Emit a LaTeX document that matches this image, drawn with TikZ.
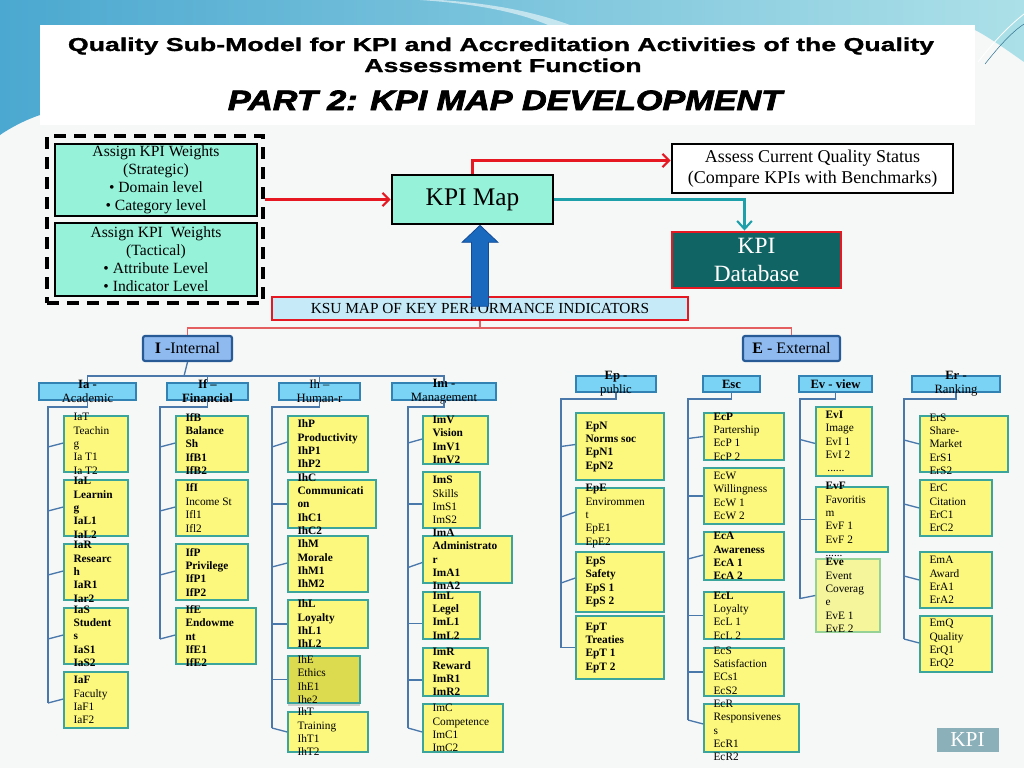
\documentclass[tikz,border=0pt]{standalone}
\usepackage{fontspec}
\setmainfont{Liberation Serif}
\newfontfamily\titlefont[BoldFeatures={FakeBold=1}]{Liberation Sans}
\newfontfamily\partfont[BoldItalicFeatures={FakeBold=2.5}]{Liberation Sans}
\usepackage{graphicx}
\usetikzlibrary{arrows.meta,calc,fit,shadows}

\definecolor{greenfill}{RGB}{150,243,218}
\definecolor{kred}{RGB}{230,25,35}
\definecolor{kredlight}{RGB}{228,95,95}
\definecolor{kteal}{RGB}{30,160,170}
\definecolor{dbfill}{RGB}{16,100,100}
\definecolor{ksufill}{RGB}{198,234,248}
\definecolor{iefill}{RGB}{142,186,240}
\definecolor{iedraw}{RGB}{40,90,150}
\definecolor{subfill}{RGB}{122,210,245}
\definecolor{subdraw}{RGB}{50,130,180}
\definecolor{leaffill}{RGB}{252,248,125}
\definecolor{leafdraw}{RGB}{60,165,155}
\definecolor{treecol}{RGB}{75,120,170}
\definecolor{arrowblue}{RGB}{25,105,190}
\definecolor{arrowedge}{RGB}{20,75,150}
\definecolor{bgcol}{RGB}{246,248,248}
\definecolor{topA}{RGB}{75,168,208}
\definecolor{topB}{RGB}{172,224,232}
\definecolor{logofill}{RGB}{140,176,186}
\definecolor{ihefill}{RGB}{220,218,78}
\definecolor{evefill}{RGB}{245,245,155}
\definecolor{evedraw}{RGB}{150,210,150}

\tikzset{
  leaf/.style={draw=leafdraw, line width=1.1pt, fill=leaffill, inner sep=0pt},
  leafdark/.style={leaf, fill=ihefill, drop shadow={shadow xshift=0pt, shadow yshift=-2pt, opacity=0.35}},
  leaflight/.style={leaf, fill=evefill, draw=evedraw},
  ltext/.style={inner sep=0pt, align=left, anchor=west},
  subbox/.style={draw=subdraw, line width=0.9pt, fill=subfill, inner sep=0pt},
  subtext/.style={inner sep=0pt, align=center, font=\fontsize{9.5}{10.5}\selectfont},
  tree/.style={draw=treecol, line width=1pt},
  greenbox/.style={draw=black, line width=2pt, fill=greenfill, inner sep=0pt},
  gtext/.style={inner sep=0pt, align=center, font=\fontsize{11.7}{13.5}\selectfont},
  dashbox/.style={draw=black, line width=2.6pt, dash pattern=on 9pt off 6pt, inner sep=0pt},
  redarrow/.style={draw=kred, line width=1.6pt, -{Straight Barb[length=5pt,width=10pt,line width=1.6pt]}},
  tealarrow/.style={draw=kteal, line width=1.6pt, -{Straight Barb[length=6pt,width=11pt,line width=1.6pt]}},
  redthin/.style={draw=kredlight, line width=0.9pt},
  iebox/.style={draw=iedraw, line width=1.6pt, fill=iefill, rounded corners=1.5pt, inner sep=0pt},
}

\newcommand\leafnode[8][leaf]{%
  \node[#1, fit={(#3,#4) (#5,#6)}] (#2) {};
  \node[ltext, font=\fontsize{8.5}{10}\selectfont#7] (#2t) at ($(#2.west)+(10,0)$) {#8};
}
\newcommand\ticklink[4]{\draw[tree] ($(#1 |- #2.west)+(0,#3)$) -- ($(#2.west)+(0,#4)$);}

\begin{document}
\begin{tikzpicture}[x=0.75pt,y=-0.75pt]
\useasboundingbox (0,0) rectangle (1024,768);
% background
\fill[bgcol] (0,0) rectangle (1024,768);
\shade[left color=topA, right color=topB] (0,0) -- (1024,0) -- (1024,62) .. controls (1000,45) and (985,35) .. (975,30) -- (975,25) -- (40,25) -- (40,115) .. controls (25,120) and (10,128) .. (0,135) -- cycle;
\fill[white, opacity=0.55] (440,0) .. controls (500,4) and (540,14) .. (570,25) -- (548,25) .. controls (520,13) and (480,4) .. (420,0) -- cycle;
\draw[white, line width=0.6pt] (978,62) .. controls (995,40) and (1010,25) .. (1024,14);
\draw[topA!70!black, line width=0.4pt] (985,64) .. controls (1000,45) and (1012,32) .. (1024,24);
\fill[white] (40,25) rectangle (975,125);

% titles
\node[anchor=base, inner sep=0pt, font=\titlefont\bfseries\fontsize{14}{16}\selectfont] (title1) at (501,51) {\scalebox{1.43}[1]{Quality Sub-Model for KPI and Accreditation Activities of the Quality}};
\node[anchor=base, inner sep=0pt, font=\titlefont\bfseries\fontsize{14}{16}\selectfont] (title2) at (503,72) {\scalebox{1.43}[1]{Assessment Function}};
\node[anchor=base, inner sep=0pt, font=\partfont\bfseries\itshape\fontsize{21}{24}\selectfont] (part2) at (505,110) {\scalebox{1.22}[1]{PART 2: KPI MAP DEVELOPMENT}};

% weights
\node[dashbox, fit={(47,136) (263,303)}] (dash) {};
\node[greenbox, fit={(55,144) (257,216)}] (g1) {};
\node[gtext] (g1t) at (g1.center) {Assign KPI Weights\\(Strategic)\\• Domain level\\• Category level};
\node[greenbox, fit={(55,223) (257,296)}] (g2) {};
\node[gtext] (g2t) at (g2.center) {Assign KPI\ \ Weights\\(Tactical)\\• Attribute Level\\• Indicator Level};

% map and outputs
\node[greenbox, fit={(392,175) (553,224)}] (map) {};
\node[inner sep=0pt, font=\fontsize{19}{22}\selectfont] (mapt) at (map.center) {KPI Map};
\node[draw=black, line width=2pt, fill=white, inner sep=0pt, fit={(672,144) (953,193)}] (assess) {};
\node[inner sep=0pt, align=center, font=\fontsize{13.5}{16}\selectfont] (assesst) at (assess.center) {Assess Current Quality Status\\(Compare KPIs with Benchmarks)};
\node[draw=kred, line width=2.2pt, fill=dbfill, inner sep=0pt, fit={(672,232) (841,288)}] (db) {};
\node[inner sep=0pt, align=center, text=white, font=\fontsize{17.5}{21}\selectfont] (dbt) at (db.center) {KPI\\Database};

\draw[redarrow] (dash.east |- map.west) -- (map.west);
\draw[redarrow] (map.north) |- ($(assess.west)+(0,-8)$);
\draw[tealarrow] (map.east) -| ($(db.north)+(-12,0)$);

% KSU bar
\node[draw=kred, line width=2.2pt, fill=ksufill, inner sep=0pt, fit={(272,297) (688,320)}] (ksu) {};
\node[inner sep=0pt, font=\fontsize{11.5}{13}\selectfont] (ksut) at (ksu.center) {KSU MAP OF KEY PERFORMANCE INDICATORS};
\coordinate (atip) at (ksu.north |- map.south);
\filldraw[fill=arrowblue, draw=arrowedge, line width=0.6pt] ($(atip)+(-8.5,81)$) -- ($(atip)+(-8.5,17)$) -- ($(atip)+(-18,17)$) -- (atip) -- ($(atip)+(18,17)$) -- ($(atip)+(8.5,17)$) -- ($(atip)+(8.5,81)$) -- cycle;

% I / E
\node[iebox, fit={(143,336) (232,361)}] (iint) {};
\node[inner sep=0pt, font=\fontsize{12}{14}\selectfont] (iintt) at (iint.center) {\textbf{I} -Internal};
\node[iebox, fit={(743,336) (840,361)}] (eext) {};
\node[inner sep=0pt, font=\fontsize{12}{14}\selectfont] (eextt) at (eext.center) {\textbf{E} - External};
\coordinate (khub) at (480,328);
\draw[redthin] (ksu.south) -- (khub);
\draw[redthin] (iint.north) -- (iint.north |- khub) -- (eext.north |- khub) -- (eext.north);

% sub categories
\node[subbox, fit={(39,383) (136,400)}] (ia) {};
\node[subtext] (iat) at (ia.center) {\textbf{Ia -}\\Academic};
\node[subbox, fit={(167,383) (248,400)}] (if) {};
\node[subtext] (ift) at (if.center) {\textbf{If –}\\\textbf{Financial}};
\node[subbox, fit={(279,383) (360,400)}] (ih) {};
\node[subtext] (iht) at (ih.center) {Ih –\\Human-r};
\node[subbox, fit={(392,383) (496,400)}] (im) {};
\node[subtext] (imt) at (im.center) {\textbf{Im -}\\Management};
\node[subbox, fit={(576,376) (656,392)}] (ep) {};
\node[subtext] (ept) at (ep.center) {\textbf{Ep -}\\public};
\node[subbox, fit={(703,376) (760,392)}] (esc) {};
\node[subtext] (esct) at (esc.center) {\textbf{Esc}};
\node[subbox, fit={(799,376) (872,392)}] (ev) {};
\node[subtext] (evt) at (ev.center) {\textbf{Ev - view}};
\node[subbox, fit={(912,376) (1000,392)}] (er) {};
\node[subtext] (ert) at (er.center) {\textbf{Er -}\\Ranking};

\coordinate (ihub) at (184,376);
\draw[tree] (iint.south) -- (ihub);
\draw[tree] (ia.north) -- (ia.north |- ihub) -- (im.north |- ihub) -- (im.north);
\draw[tree] (if.north) -- (if.north |- ihub);
\draw[tree] (ih.north) -- (ih.north |- ihub);

\coordinate (cIa) at (48,407);
\coordinate (cIf) at (160,407);
\coordinate (cIh) at (272,407);
\coordinate (cIm) at (408,407);
\coordinate (cEp) at (561,399);
\coordinate (cEc) at (688,399);
\coordinate (cEv) at (800,399);
\coordinate (cEr) at (904,399);

% Ia leaves
\leafnode{ia1}{64}{416}{128}{472}{}{IaT\\Teachin\\g\\Ia T1\\Ia T2}
\leafnode{ia2}{64}{480}{128}{536}{\bfseries}{IaL\\Learnin\\g\\IaL1\\IaL2}
\leafnode{ia3}{64}{544}{128}{600}{\bfseries}{IaR\\Researc\\h\\IaR1\\Iar2}
\leafnode{ia4}{64}{608}{128}{664}{\bfseries}{IaS\\Student\\s\\IaS1\\IaS2}
\leafnode{ia5}{64}{672}{128}{728}{}{\textbf{IaF}\\Faculty\\IaF1\\IaF2}
\draw[tree] (ia.south) |- (cIa) -- ($(cIa |- ia5.west)+(0,3)$);
\ticklink{cIa}{ia1}{3}{-1}\ticklink{cIa}{ia2}{3}{-1}\ticklink{cIa}{ia3}{3}{-1}\ticklink{cIa}{ia4}{3}{-1}\ticklink{cIa}{ia5}{3}{-1}

% If leaves
\leafnode{if1}{176}{416}{248}{472}{\bfseries}{IfB\\Balance\\Sh\\IfB1\\IfB2}
\leafnode{if2}{176}{480}{248}{536}{}{\textbf{IfI}\\Income St\\Ifl1\\Ifl2}
\leafnode{if3}{176}{544}{248}{600}{\bfseries}{IfP\\Privilege\\IfP1\\IfP2}
\leafnode{if4}{176}{608}{256}{664}{\bfseries}{IfE\\Endowme\\nt\\IfE1\\IfE2}
\draw[tree] (if.south) |- (cIf) -- ($(cIf |- if4.west)+(0,3)$);
\ticklink{cIf}{if1}{3}{-1}\ticklink{cIf}{if2}{3}{-1}\ticklink{cIf}{if3}{3}{-1}\ticklink{cIf}{if4}{3}{-1}

% Ih leaves
\leafnode{ih1}{288}{416}{368}{472}{\bfseries}{IhP\\Productivity\\IhP1\\IhP2}
\leafnode{ih2}{288}{480}{376}{528}{\bfseries}{IhC\\Communicati\\on\\IhC1\\IhC2}
\leafnode{ih3}{288}{536}{368}{592}{\bfseries}{IhM\\Morale\\IhM1\\IhM2}
\leafnode{ih4}{288}{600}{368}{648}{\bfseries}{IhL\\Loyalty\\IhL1\\IhL2}
\leafnode[leafdark]{ih5}{288}{656}{360}{703}{}{IhE\\Ethics\\IhE1\\Ihe2}
\leafnode{ih6}{288}{712}{368}{752}{}{IhT\\Training\\IhT1\\IhT2}
\draw[tree] (ih.south) |- (cIh) -- ($(cIh |- ih6.west)+(0,-4)$);
\ticklink{cIh}{ih1}{3}{-2}\ticklink{cIh}{ih2}{0}{0}\ticklink{cIh}{ih3}{3}{-1}\ticklink{cIh}{ih4}{0}{0}\ticklink{cIh}{ih5}{0}{0}\ticklink{cIh}{ih6}{-4}{0}

% Im leaves
\leafnode{im1}{423}{416}{488}{464}{\bfseries}{ImV\\Vision\\ImV1\\ImV2}
\leafnode{im2}{423}{472}{480}{528}{}{\textbf{ImS}\\Skills\\ImS1\\ImS2}
\leafnode{im3}{423}{536}{512}{583}{\bfseries}{ImA\\Administrato\\r\\ImA1\\ImA2}
\leafnode{im4}{423}{592}{480}{639}{\bfseries}{ImL\\Legel\\ImL1\\ImL2}
\leafnode{im5}{423}{648}{488}{696}{\bfseries}{ImR\\Reward\\ImR1\\ImR2}
\leafnode{im6}{423}{704}{503}{752}{}{ImC\\Competence\\ImC1\\ImC2}
\draw[tree] (im.south) |- (cIm) -- ($(cIm |- im6.west)+(0,0)$);
\ticklink{cIm}{im1}{3}{-1}\ticklink{cIm}{im2}{4}{4}\ticklink{cIm}{im3}{8}{3}\ticklink{cIm}{im4}{8}{8}\ticklink{cIm}{im5}{8}{8}\ticklink{cIm}{im6}{0}{4}

% Ep leaves
\leafnode{ep1}{576}{413}{664}{480}{\bfseries}{EpN\\Norms soc\\EpN1\\EpN2}
\leafnode{ep2}{576}{488}{664}{544}{}{\textbf{EpE}\\Envirommen\\t\\EpE1\\EpE2}
\leafnode{ep3}{576}{552}{664}{612}{\bfseries}{EpS\\Safety\\EpS 1\\EpS 2}
\leafnode{ep4}{576}{616}{664}{679}{\bfseries}{EpT\\Treaties\\EpT 1\\EpT 2}
\draw[tree] (ep.south) |- (cEp) -- ($(cEp |- ep4.west)+(0,0)$);
\ticklink{cEp}{ep1}{0}{-2}\ticklink{cEp}{ep2}{1}{-4}\ticklink{cEp}{ep3}{1}{-4}\ticklink{cEp}{ep4}{0}{0}

% Esc leaves
\leafnode{ec1}{704}{413}{784}{460}{}{\textbf{EcP}\\Partership\\EcP 1\\EcP 2}
\leafnode{ec2}{704}{468}{784}{524}{}{EcW\\Willingness\\EcW 1\\EcW 2}
\leafnode{ec3}{704}{532}{784}{580}{\bfseries}{EcA\\Awareness\\EcA 1\\EcA 2}
\leafnode{ec4}{704}{592}{784}{639}{}{\textbf{EcL}\\Loyalty\\EcL 1\\EcL 2}
\node[leaf, fit={(704,648) (784,696)}] (ec5) {};
\node[ltext, font=\fontsize{8.5}{10}\selectfont] (ec5t) at ($(ec5.west)+(10,-1.5)$) {EcS\\Satisfaction\\ECs1\\EcS2};
\node[leaf, fit={(704,704) (799,752)}] (ec6) {};
\node[ltext, font=\fontsize{8.5}{10}\selectfont] (ec6t) at ($(ec6.west)+(10,2.5)$) {EcR\\Responsivenes\\s\\EcR1\\EcR2};
\draw[tree] (esc.south) |- (cEc) -- ($(cEc |- ec6.west)+(0,-8)$);
\ticklink{cEc}{ec1}{2}{0}\ticklink{cEc}{ec2}{0}{0}\ticklink{cEc}{ec3}{3}{-1}\ticklink{cEc}{ec4}{0}{0}\ticklink{cEc}{ec5}{0}{0}\ticklink{cEc}{ec6}{-8}{-4}

% Ev leaves
\leafnode{ev1}{816}{407}{872}{476}{}{\textbf{EvI}\\Image\\EvI 1\\EvI 2\\\,......}
\leafnode{ev2}{816}{487}{888}{552}{}{\textbf{EvF}\\Favoritis\\m\\EvF 1\\EvF 2\\......}
\leafnode[leaflight]{ev3}{816}{559}{880}{632}{}{\textbf{Eve}\\Event\\Coverag\\e\\EvE 1\\EvE 2}
\draw[tree] (ev.south) |- (cEv) -- ($(cEv |- ev3.west)+(0,3)$);
\ticklink{cEv}{ev1}{-2}{2}\ticklink{cEv}{ev2}{0}{0}\ticklink{cEv}{ev3}{3}{0}

% Er leaves
\leafnode{er1}{920}{416}{1008}{472}{}{ErS\\Share-\\Market\\ErS1\\ErS2}
\leafnode{er2}{920}{480}{992}{536}{}{ErC\\Citation\\ErC1\\ErC2}
\leafnode{er3}{920}{552}{992}{608}{}{EmA\\Award\\ErA1\\ErA2}
\leafnode{er4}{920}{616}{992}{672}{}{EmQ\\Quality\\ErQ1\\ErQ2}
\draw[tree] (er.south) |- (cEr) -- ($(cEr |- er4.west)+(0,-5)$);
\ticklink{cEr}{er1}{-4}{0}\ticklink{cEr}{er2}{-4}{0}\ticklink{cEr}{er3}{-4}{0}\ticklink{cEr}{er4}{-5}{-1}

% logo
\node[fill=logofill, inner sep=0pt, minimum width=46.5pt, minimum height=18pt, text=white, font=\fontsize{16}{18}\selectfont] (logo) at (967.5,740) {KPI};
\end{tikzpicture}
\end{document}
